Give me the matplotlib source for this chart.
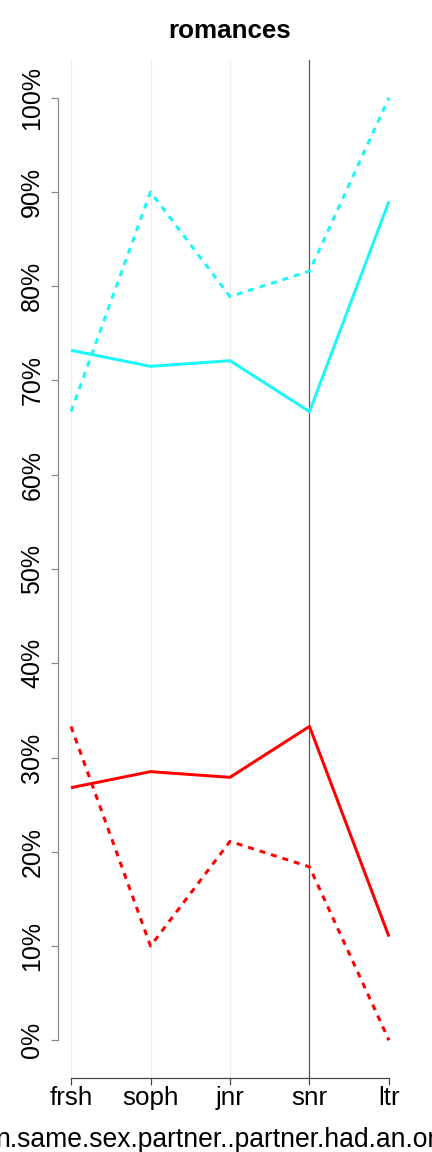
import matplotlib
matplotlib.use("Agg")
import matplotlib.pyplot as plt

categories = ["frsh", "soph", "jnr", "snr", "ltr"]
cyan_solid = [73.2, 71.5, 72.1, 66.7, 89.0]
red_solid = [26.8, 28.5, 27.9, 33.3, 11.0]
cyan_dotted = [66.7, 90.0, 78.9, 81.6, 100.0]
red_dotted = [33.3, 10.0, 21.1, 18.4, 0.0]
yticks = [0, 10, 20, 30, 40, 50, 60, 70, 80, 90, 100]
ytick_labels = [f"{v}%" for v in yticks]
title = "romances"
xlabel = "n.same.sex.partner..partner.had.an.or"

plt.rcParams['font.family'] = ['Liberation Sans', 'DejaVu Sans']

fig = plt.figure(figsize=(6, 16), dpi=72)
W, H = 432, 1152
ax = fig.add_axes([58.3 / W, 74 / H, (401.7 - 58.3) / W, (1092 - 74) / H])
x = list(range(1, len(categories) + 1))
ax.set_xlim(0.84, 5.16)
ax.set_ylim(-4, 104)

# vertical guide lines
for xi in x[:3]:
    ax.axvline(xi, color="#F0EEE2", lw=1.2, zorder=0)
ax.axvline(x[3], color="#555555", lw=1.2, zorder=0)

ax.plot(x, cyan_solid, color="#1CF7F7", lw=3, solid_capstyle="butt")
ax.plot(x, red_solid, color="#FF0000", lw=3, solid_capstyle="butt")
ax.plot(x, cyan_dotted, color="#1CF7F7", lw=3, linestyle=(0, (2, 2)))
ax.plot(x, red_dotted, color="#FF0000", lw=3, linestyle=(0, (2, 2)))

for s in ["top", "right"]:
    ax.spines[s].set_visible(False)
ax.spines["left"].set_bounds(0, 100)
ax.spines["left"].set_color("#888888")
ax.spines["left"].set_linewidth(1.2)
ax.spines["bottom"].set_bounds(1, 5)
ax.spines["bottom"].set_color("#444444")
ax.spines["bottom"].set_linewidth(1.2)

ax.set_yticks(yticks)
ax.set_yticklabels(ytick_labels, rotation=90, va="center", fontsize=25)
ax.set_xticks(x)
ax.set_xticklabels(categories, fontsize=26)
ax.tick_params(axis="y", length=7, color="#888888", width=1.2, pad=7)
ax.tick_params(axis="x", length=7, color="#444444", width=1.2, pad=1)

fig.text(230 / W, 1 - 31 / H, title, ha="center", va="center", fontsize=26, fontweight="bold")
fig.text(216 / W, 1 - 1140 / H, xlabel, ha="center", va="center", fontsize=26.5)

fig.savefig("out.png", dpi=72)
